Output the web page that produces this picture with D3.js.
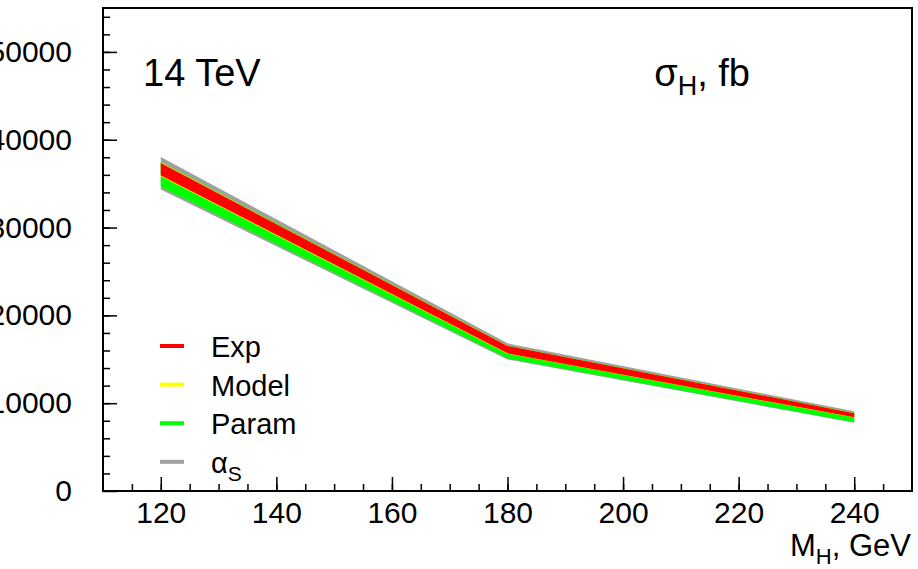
<!DOCTYPE html>
<html>
<head>
<meta charset="utf-8">
<script src="https://cdn.jsdelivr.net/npm/d3@7"></script>
<style>
  body { margin: 0; background: #fff; }
  svg { display: block; font-family: "Liberation Sans", Arial, Helvetica, sans-serif; }
</style>
</head>
<body>
<div id="chart"></div>
<script>
// Higgs mass points (GeV)
const massPoints = [120, 180, 240];

// band edges in fb, drawn from widest to narrowest
const alphaLow  = [34320, 14980, 7760];
const alphaHigh = [38020, 16820, 9070];
const paramLow  = [34610, 15110, 7840];
const paramHigh = [37500, 16560, 8900];
const modelLow  = [35830, 15630, 8360];
const modelHigh = [37430, 16530, 8880];
const expLow    = [35940, 15680, 8390];
const expHigh   = [37360, 16510, 8860];

const xMajorTicks = [120, 140, 160, 180, 200, 220, 240];
const xMinorTicks = d3.range(115, 250, 5);
const yMajorTicks = [0, 10000, 20000, 30000, 40000, 50000];
const yMinorTicks = d3.range(2000, 55000, 2000);

const legendNames = ['Exp', 'Model', 'Param', 'α'];
const legendColors = ['#ff0000', '#ffff00', '#00ff00', '#a0a0a0'];

const width = 918, height = 569;
const frameL = 103, frameR = 912, frameT = 8, frameB = 491;

const svg = d3.select('#chart').append('svg')
  .attr('width', width)
  .attr('height', height);

const x = d3.scaleLinear().domain([110, 250]).range([frameL, frameR]);
const y = d3.scaleLinear().domain([0, 55000]).range([frameB, frameT]);

// bands
const bands = [
  { low: alphaLow, high: alphaHigh, color: '#a0a0a0' },
  { low: paramLow, high: paramHigh, color: '#00ff00' },
  { low: modelLow, high: modelHigh, color: '#ffff00' },
  { low: expLow, high: expHigh, color: '#ff0000' }
];

const area = d3.area()
  .x(d => x(d.m))
  .y0(d => y(d.lo))
  .y1(d => y(d.hi));

bands.forEach(b => {
  const pts = massPoints.map((m, i) => ({ m: m, lo: b.low[i], hi: b.high[i] }));
  svg.append('path')
    .datum(pts)
    .attr('d', area)
    .attr('fill', b.color);
});

// axes
svg.append('g')
  .attr('transform', `translate(0,${frameB})`)
  .call(d3.axisBottom(x).tickValues(xMajorTicks).tickSize(-14).tickPadding(11).tickFormat(d3.format('d')));
svg.append('g')
  .attr('transform', `translate(0,${frameB})`)
  .call(d3.axisBottom(x).tickValues(xMinorTicks).tickSize(-7).tickFormat(''));

svg.append('g')
  .attr('transform', `translate(${frameL},0)`)
  .call(d3.axisLeft(y).tickValues(yMajorTicks).tickSize(-14).tickPadding(31).tickFormat(d3.format('d')));
svg.append('g')
  .attr('transform', `translate(${frameL},0)`)
  .call(d3.axisLeft(y).tickValues(yMinorTicks).tickSize(-7).tickFormat(''));

svg.selectAll('.domain').remove();
svg.selectAll('.tick line').attr('stroke', '#000').attr('stroke-width', 1.5);
svg.selectAll('.tick text').attr('fill', '#000').style('font-size', '30px');

// frame
svg.append('rect')
  .attr('x', frameL).attr('y', frameT)
  .attr('width', frameR - frameL).attr('height', frameB - frameT)
  .attr('fill', 'none')
  .attr('stroke', '#000')
  .attr('stroke-width', 2);

// labels
svg.append('text')
  .attr('x', 143).attr('y', 86)
  .style('font-size', '38px')
  .text('14 TeV');

const sig = svg.append('text')
  .attr('x', 750).attr('y', 86)
  .attr('text-anchor', 'end')
  .style('font-size', '38px');
sig.append('tspan').text('σ');
sig.append('tspan').attr('dy', 9).style('font-size', '27px').text('H');
sig.append('tspan').attr('dy', -9).text(', fb');

const mt = svg.append('text')
  .attr('x', 911).attr('y', 556)
  .attr('text-anchor', 'end')
  .style('font-size', '31px');
mt.append('tspan').text('M');
mt.append('tspan').attr('dy', 8).style('font-size', '22px').text('H');
mt.append('tspan').attr('dy', -8).text(', GeV');

// legend
const legend = svg.append('g');
legendNames.forEach((name, i) => {
  const yy = 346 + i * 38.6;
  legend.append('line')
    .attr('x1', 160).attr('x2', 184)
    .attr('y1', yy).attr('y2', yy)
    .attr('stroke', legendColors[i])
    .attr('stroke-width', 4);
  const t = legend.append('text')
    .attr('x', 211).attr('y', yy + 11)
    .style('font-size', '29px');
  t.append('tspan').text(name);
  if (name === 'α') {
    t.append('tspan').attr('dy', 8).style('font-size', '21px').text('S');
  }
});
</script>
</body>
</html>
